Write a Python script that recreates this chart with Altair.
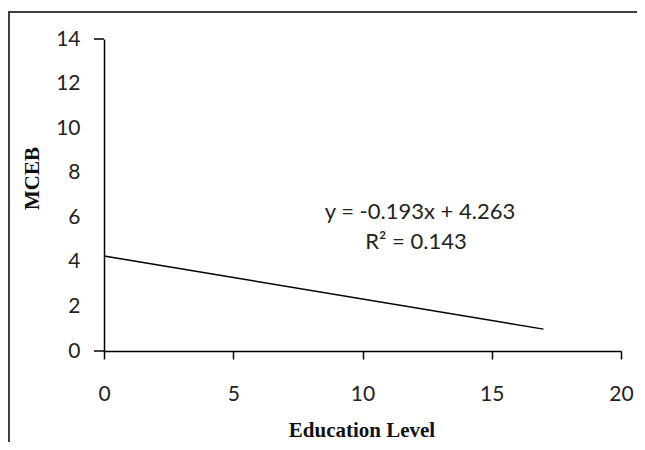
import altair as alt
import pandas as pd

# Trend line (x from 0 to 17)
x_vals = [0, 17]
y_vals = [4.263, 0.982]
x_ticks = [0, 5, 10, 15, 20]
y_ticks = [0, 2, 4, 6, 8, 10, 12, 14]
eq_lines = ["y = -0.193x + 4.263", "R² = 0.143"]
stub_values = [0, 14]

line_df = pd.DataFrame({"x": x_vals, "y": y_vals})
stub_df = pd.DataFrame({"y": stub_values})
one = pd.DataFrame({"a": [0]})

x_scale = alt.Scale(domain=[0, 20], nice=False)
y_scale = alt.Scale(domain=[0, 14], nice=False)

W, H = 517, 312

x_axis = alt.Axis(values=x_ticks, title="Education Level", ticks=True,
                  tickSize=8, labelPadding=24, labelFlush=False,
                  titleBaseline="middle", titleY=79, titleX=W / 2 - 1)
y_axis = alt.Axis(values=y_ticks, title="MCEB", ticks=False,
                  labelPadding=24, labelFlush=False, titleAngle=-90,
                  titleBaseline="middle", titleX=-72, titleY=139)

line = alt.Chart(line_df).mark_line(color="black", strokeWidth=1.5).encode(
    x=alt.X("x:Q", scale=x_scale, axis=x_axis),
    y=alt.Y("y:Q", scale=y_scale, axis=y_axis),
)

stubs = alt.Chart(stub_df).mark_rule(color="black", strokeWidth=1.5).encode(
    y=alt.Y("y:Q", scale=y_scale, axis=y_axis),
    x=alt.value(-10),
    x2=alt.value(0),
)

eq1 = alt.Chart(pd.DataFrame({"t": [eq_lines[0]]})).mark_text(
    font="Lato", fontSize=22, color="#222", align="center", baseline="middle"
).encode(text="t:N", x=alt.value(420 - 104), y=alt.value(212 - 39))

eq2 = alt.Chart(pd.DataFrame({"t": [eq_lines[1]]})).mark_text(
    font="Lato", fontSize=22, color="#222", align="center", baseline="middle"
).encode(text="t:N", x=alt.value(416 - 104), y=alt.value(242 - 39))

frame_left = alt.Chart(one).mark_rule(color="#404040", strokeWidth=2).encode(
    x=alt.value(-95), y=alt.value(-27), y2=alt.value(430)
)
frame_top = alt.Chart(one).mark_rule(color="#404040", strokeWidth=2).encode(
    x=alt.value(-96), x2=alt.value(560), y=alt.value(-27)
)

chart = alt.layer(frame_left, frame_top, line, stubs, eq1, eq2).properties(
    width=W, height=H,
    autosize=alt.AutoSizeParams(type="none"),
    padding={"left": 96, "top": 31, "right": 16, "bottom": 91},
    background="white",
).configure_view(stroke=None).configure_axis(
    grid=False,
    domainColor="black",
    domainWidth=1.5,
    tickColor="black",
    tickWidth=1.5,
    labelFont="Lato",
    labelFontSize=21,
    labelColor="#222",
    titleFont="Liberation Serif",
    titleFontSize=21,
    titleFontWeight="bold",
    titleColor="#111",
)

chart.save("out.html", embed_options={"renderer": "svg", "actions": False})
